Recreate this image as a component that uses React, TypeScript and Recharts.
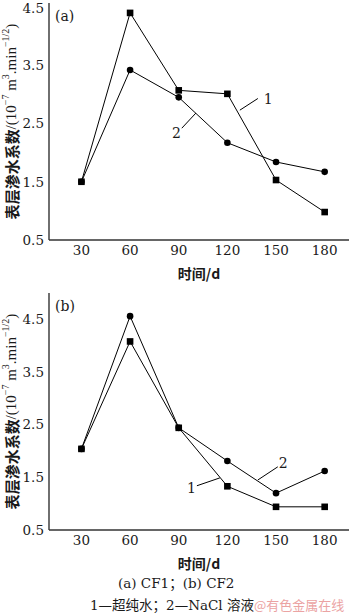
import React from 'react';
import {
  LineChart,
  Line,
  XAxis,
  YAxis,
  ReferenceLine,
  ReferenceDot,
} from 'recharts';

const days = [30, 60, 90, 120, 150, 180];
const dayTicks = [30, 60, 90, 120, 150, 180];
const valueTicks = [0.5, 1.5, 2.5, 3.5, 4.5];

// (a) CF1
const cf1Water = [1.5, 4.4, 3.07, 3.01, 1.53, 0.98];
const cf1NaCl = [1.5, 3.42, 2.95, 2.17, 1.84, 1.67];
// (b) CF2
const cf2Water = [2.04, 4.08, 2.44, 1.33, 0.94, 0.94];
const cf2NaCl = [2.04, 4.56, 2.44, 1.81, 1.2, 1.62];

const SERIF = '"DejaVu Serif", "Liberation Serif", serif';
const TIMES = '"Liberation Serif", serif';
const CJK = '"Noto Sans CJK SC", sans-serif';
const INK = '#1a1a1a';

type Note = { text: string; anchor: 'start' | 'end'; at: { x: number; y: number }; seg: { x: number; y: number }[] };

function SquareDot(props: any) {
  const { cx, cy, index } = props;
  if (cx == null || cy == null) return null;
  return <rect key={`sq-${index}`} x={cx - 3.3} y={cy - 3.3} width={6.6} height={6.6} fill="#000" />;
}

function YTitle({ viewBox }: any) {
  const x = viewBox.x + 2;
  const y = viewBox.y + viewBox.height / 2;
  return (
    <text
      x={x}
      y={y}
      transform={`rotate(-90 ${x} ${y})`}
      textAnchor="middle"
      dominantBaseline="central"
      fill={INK}
      fontSize={15}
    >
      <tspan fontFamily={CJK} fontWeight={700}>表层渗水系数</tspan>
      <tspan fontFamily={TIMES}>/(10</tspan>
      <tspan fontFamily={TIMES} fontSize={10} dy={-6}>−7</tspan>
      <tspan fontFamily={TIMES} dy={6}> m</tspan>
      <tspan fontFamily={TIMES} fontSize={10} dy={-6}>3</tspan>
      <tspan fontFamily={TIMES} dy={6}>.min</tspan>
      <tspan fontFamily={TIMES} fontSize={10} dy={-6}>−1/2</tspan>
      <tspan fontFamily={TIMES} dy={6}>)</tspan>
    </text>
  );
}

function XTitle({ viewBox }: any) {
  return (
    <text
      x={viewBox.x + viewBox.width / 2}
      y={viewBox.y + 39}
      textAnchor="middle"
      fill={INK}
      fontSize={14}
      fontFamily={CJK}
      fontWeight={700}
    >
      时间/d
    </text>
  );
}

function Panel({
  water,
  nacl,
  yMax,
  tag,
  notes,
}: {
  water: number[];
  nacl: number[];
  yMax: number;
  tag: string;
  notes: Note[];
}) {
  const data = days.map((d, i) => ({ day: d, water: water[i], nacl: nacl[i] }));
  return (
    <div style={{ position: 'relative', width: 350, height: 290 }}>
      <LineChart width={350} height={290} data={data} margin={{ top: 3, right: 1, bottom: 20, left: 9 }}>
        <XAxis
          dataKey="day"
          type="number"
          domain={[10, 195]}
          ticks={dayTicks}
          allowDataOverflow
          height={30}
          tickLine={false}
          tickSize={3}
          tickMargin={2}
          axisLine={{ stroke: '#333', strokeWidth: 1.4 }}
          tick={{ fontSize: 13.5, fontFamily: SERIF, fill: INK }}
          label={<XTitle />}
        />
        <XAxis xAxisId="top" orientation="top" type="number" domain={[10, 195]} height={0} tick={false} tickLine={false} axisLine={{ stroke: '#333', strokeWidth: 1.4 }} />
        <YAxis
          type="number"
          domain={[0.5, yMax]}
          ticks={valueTicks}
          allowDataOverflow
          width={40}
          tickLine={false}
          tickSize={3}
          tickMargin={2}
          tickFormatter={(v: number) => v.toFixed(1)}
          axisLine={{ stroke: '#333', strokeWidth: 1.4 }}
          tick={{ fontSize: 13.5, fontFamily: SERIF, fill: INK }}
          label={<YTitle />}
        />
        <YAxis yAxisId="right" orientation="right" domain={[0.5, yMax]} width={0} tick={false} tickLine={false} axisLine={{ stroke: '#333', strokeWidth: 1.4 }} />
        <Line dataKey="water" stroke="#000" strokeWidth={1} dot={<SquareDot />} isAnimationActive={false} />
        <Line dataKey="nacl" stroke="#000" strokeWidth={1} dot={{ r: 3.3, fill: '#000', stroke: '#000', strokeWidth: 0 }} isAnimationActive={false} />
        {notes.map((n, i) => (
          <ReferenceLine key={`l${i}`} segment={n.seg} stroke="#000" strokeWidth={1} ifOverflow="visible" />
        ))}
        {notes.map((n, i) => (
          <ReferenceDot
            key={`t${i}`}
            x={n.at.x}
            y={n.at.y}
            r={0}
            ifOverflow="visible"
            shape={(p: any) => (
              <text x={p.cx} y={p.cy} textAnchor={n.anchor} dominantBaseline="central" fontSize={14} fontFamily={SERIF} fill={INK}>
                {n.text}
              </text>
            )}
          />
        ))}
      </LineChart>
      <span style={{ position: 'absolute', left: 55, top: 8, fontSize: 14, fontFamily: SERIF, color: INK, lineHeight: '16px' }}>{tag}</span>
    </div>
  );
}

const notesA: Note[] = [
  { text: '1', anchor: 'start', at: { x: 142.5, y: 2.92 }, seg: [{ x: 127.7, y: 2.73 }, { x: 138.8, y: 2.93 }] },
  { text: '2', anchor: 'end', at: { x: 91.3, y: 2.34 }, seg: [{ x: 91.9, y: 2.42 }, { x: 100.6, y: 2.68 }] },
];
const notesB: Note[] = [
  { text: '2', anchor: 'start', at: { x: 151.7, y: 1.77 }, seg: [{ x: 138.8, y: 1.45 }, { x: 151.1, y: 1.7 }] },
  { text: '1', anchor: 'end', at: { x: 100.6, y: 1.3 }, seg: [{ x: 101.2, y: 1.34 }, { x: 115.4, y: 1.49 }] },
];

export default function App() {
  return (
    <div style={{ position: 'absolute', left: 0, top: 0, width: 350, height: 615, background: '#fff' }}>
      <Panel water={cf1Water} nacl={cf1NaCl} yMax={4.57} tag="(a)" notes={notesA} />
      <Panel water={cf2Water} nacl={cf2NaCl} yMax={5.0} tag="(b)" notes={notesB} />
      <div style={{ position: 'absolute', left: 118, top: 573, fontSize: 13.5, fontFamily: SERIF, color: INK, lineHeight: '18px', whiteSpace: 'nowrap' }}>
        (a) CF1<span style={{ fontFamily: CJK }}>；</span>(b) CF2
      </div>
      <div style={{ position: 'absolute', left: 90, top: 595, fontSize: 13.5, fontFamily: SERIF, color: INK, lineHeight: '18px', whiteSpace: 'nowrap' }}>
        1—<span style={{ fontFamily: CJK }}>超纯水；</span>2—NaCl <span style={{ fontFamily: CJK }}>溶液</span>
        <span style={{ fontFamily: CJK, fontSize: 13, color: '#eba3a3' }}>@有色金属在线</span>
      </div>
    </div>
  );
}
